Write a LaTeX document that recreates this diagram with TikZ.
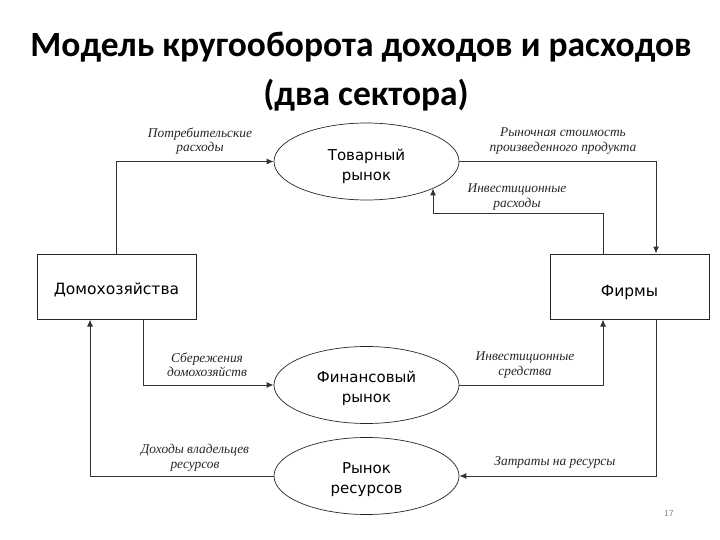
\documentclass[tikz,border=0pt]{standalone}
\usepackage{fontspec}
\setmainfont{Liberation Serif}
\newfontfamily\titlefont{Carlito}
\newfontfamily\boxfont{DejaVu Sans}
\usetikzlibrary{shapes.geometric,arrows.meta}
\begin{document}
\begin{tikzpicture}[x=1pt,y=-1pt,
  conn/.style={draw=black!80,line width=1pt},
  arr/.style={conn,-{Latex[length=7pt,width=6pt]}},
  mkt/.style={draw=black!85,ellipse,line width=0.7pt,minimum width=185pt,minimum height=77pt,inner sep=0pt},
  mkttext/.style={align=center,inner sep=0pt,font=\boxfont\fontsize{15}{20}\selectfont},
  agent/.style={draw=black!85,rectangle,line width=1pt,minimum width=159pt,minimum height=65pt,inner sep=0pt},
  agenttext/.style={inner sep=0pt,font=\boxfont\fontsize{15.5}{17}\selectfont},
  lbl/.style={align=center,inner sep=0pt,text=black!85,font=\itshape\fontsize{13.4}{14.5}\selectfont},
  ttl/.style={inner sep=0pt,font=\titlefont\bfseries\fontsize{35.5}{40}\selectfont}]
\useasboundingbox (0,0) rectangle (720,540);
\node[ttl] (t1) at (361,47) {Модель кругооборота доходов и расходов};
\node[ttl] (t2) at (366,95) {(два сектора)};
\node[mkt,label={[name=tmt,mkttext,yshift=-5pt]center:{Товарный\\рынок}}] (tm) at (366.5,161.5) {};
\node[mkt,label={[name=fmt,mkttext,yshift=-3pt]center:{Финансовый\\рынок}}] (fm) at (366.5,385) {};
\node[mkt,label={[name=rrt,mkttext,yshift=-4pt]center:{Рынок\\ресурсов}}] (rr) at (366.5,476) {};
\node[agent,label={[name=hht,agenttext,yshift=-3.5pt]center:Домохозяйства}] (hh) at (116.5,286.5) {};
\node[agent,label={[name=ft,agenttext,yshift=-6pt]center:Фирмы}] (f) at (629.5,286.5) {};
\coordinate (ie) at (433,214);
\draw[arr] (hh.north) |- (tm.west);
\draw[arr] (tm.east) -| ([xshift=26.5pt]f.north);
\draw[arr] ([xshift=-26.5pt]f.north) |- (ie) -- (ie |- tm.-22.4);
\draw[arr] ([xshift=26.5pt]hh.south) |- (fm.west);
\draw[arr] (fm.east) -| ([xshift=-26.5pt]f.south);
\draw[arr] ([xshift=26.5pt]f.south) |- (rr.east);
\draw[arr] (rr.west) -| ([xshift=-26.5pt]hh.south);
\node[lbl] (l1) at (200,141) {Потребительские\\расходы};
\node[lbl] (l2) at (563,141) {Рыночная стоимость\\произведенного продукта};
\node[lbl] (l3) at (517,197) {Инвестиционные\\расходы};
\node[lbl] (l4) at (207,365) {Сбережения\\домохозяйств};
\node[lbl] (l5) at (525,365) {Инвестиционные\\средства};
\node[lbl] (l6) at (195,458) {Доходы владельцев\\ресурсов};
\node[lbl] (l7) at (555,463) {Затраты на ресурсы};
\node[inner sep=0pt,text=black!50,font=\sffamily\fontsize{9}{10}\selectfont] (pg) at (669,514) {17};
\end{tikzpicture}
\end{document}
